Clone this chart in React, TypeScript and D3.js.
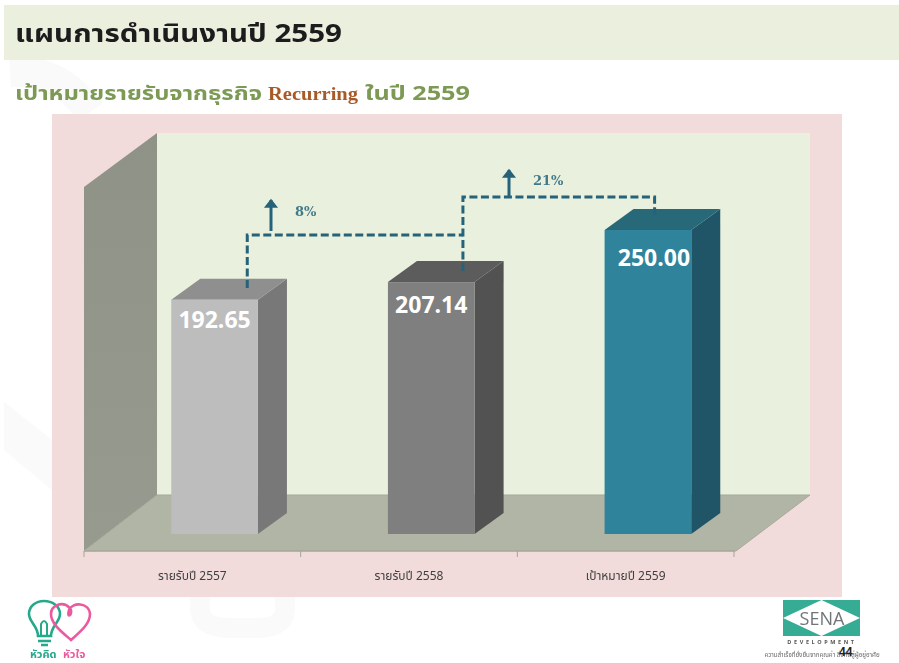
import React from "react";
import * as d3 from "d3";

const categories = ["รายรับปี 2557", "รายรับปี 2558", "เป้าหมายปี 2559"];
const revenue = [192.65, 207.14, 250.0];
const growthLabels = ["8%", "21%"];
const frontColors = ["#bdbdbd", "#7f7f7f", "#2f839b"];
const sideColors = ["#787878", "#525252", "#1f5566"];
const topColors = ["#8f8f8f", "#5c5c5c", "#276879"];

const width = 899;
const height = 663;

// 3D box depth
const dx = 29;
const dy = -21;
// back wall offset from the front axis
const wallDx = 73;
const wallDy = -56;

const axisY = 551;
const floorFront = 534;
const labelDy = [28, 31, 36];
const labelShift = [0, 0, 6];
const thai = "'Noto Sans Thai', Tahoma, 'DejaVu Sans', 'Noto Sans', sans-serif";
const arrowColor = "#26647a";

const App = () => {
  const band = d3.scaleBand<string>().domain(categories).range([84, 734]);
  const y = d3.scaleLinear().domain([0, 250]).range([floorFront, 230]);
  const barW = band.bandwidth() * 0.4;
  const barX = (c: string) => (band(c) as number) + barW + 0.6;
  const poly = (pts: [number, number][]) => d3.line()(pts) + "Z";

  const ticks = [...categories.map((c) => band(c) as number), 734];

  const [x0, x1, x2] = categories.map(barX);
  const link1 = d3.line()([
    [x0 + 76, 288],
    [x0 + 76, 235],
    [x1 + 75, 235],
  ]) as string;
  const link2 = d3.line()([
    [x1 + 75, 271],
    [x1 + 75, 197],
    [x2 + 50, 197],
    [x2 + 50, 218],
  ]) as string;

  const arrow = (ax: number, y0: number, y1: number) => (
    <g stroke={arrowColor} fill="none" strokeWidth={3}>
      <line x1={ax} x2={ax} y1={y0} y2={y1} />
      <path d={`M${ax - 5.5},${y1 + 7}L${ax},${y1}L${ax + 5.5},${y1 + 7}Z`} fill={arrowColor} strokeWidth={1.5} />
    </g>
  );

  return (
    <svg
      width={width}
      height={height}
      style={{ position: "absolute", left: 0, top: 0, background: "#fff" }}
    >
      <defs>
        <filter id="soft" x="-5%" y="-5%" width="110%" height="110%">
          <feGaussianBlur stdDeviation="0.45" />
        </filter>
        <filter id="softer" x="-5%" y="-5%" width="110%" height="110%">
          <feGaussianBlur stdDeviation="0.6" />
        </filter>
        <linearGradient id="wall" x1="0" x2="0" y1="0" y2="1">
          <stop offset="0" stopColor="#8f9287" />
          <stop offset="1" stopColor="#979a8e" />
        </linearGradient>
      </defs>

      {/* faint watermark behind the slide */}
      <path d="M4,402L52,440V490L4,450Z" fill="#fafafa" />
      <path d="M200,597V608Q200,628 230,628H258Q285,628 285,608V597" fill="none" stroke="#fafafa" strokeWidth={20} />
      <path d="M10,72Q60,68 90,112" fill="none" stroke="#fafafa" strokeWidth={30} />

      <rect x={4} y={5} width={895} height={55} fill="#ebf0de" />
      <g fontFamily={thai} fontWeight="bold" filter="url(#soft)">
        <text x={15} y={42} fontSize={25} fill="#1a1a1a" textLength={327} lengthAdjust="spacingAndGlyphs">
          แผนการดำเนินงานปี 2559
        </text>
        <text x={15} y={100} fontSize={20} fill="#7d9a55" textLength={247} lengthAdjust="spacingAndGlyphs">
          เป้าหมายรายรับจากธุรกิจ
        </text>
        <text x={268} y={100} fontSize={19} fill="#a85a28" fontFamily="'Liberation Serif', serif" textLength={90} lengthAdjust="spacingAndGlyphs">
          Recurring
        </text>
        <text x={365} y={100} fontSize={20} fill="#7d9a55" textLength={105} lengthAdjust="spacingAndGlyphs">
          ในปี 2559
        </text>
      </g>

      {/* chart area */}
      <rect x={52} y={114} width={790} height={483} fill="#f2dcdb" />
      <rect x={84 + wallDx} y={133} width={653} height={axisY + wallDy - 133} fill="#e9f0dd" />
      <path
        d={poly([
          [84, 187],
          [84 + wallDx, 133],
          [84 + wallDx, axisY + wallDy],
          [84, axisY],
        ])}
        fill="url(#wall)"
      />
      <path
        d={poly([
          [84, axisY],
          [84 + wallDx, axisY + wallDy],
          [810, axisY + wallDy],
          [736, axisY],
        ])}
        fill="#b1b5a6"
        stroke="#a6a99b"
        strokeWidth={1}
      />

      {/* axis */}
      <line x1={84} x2={735} y1={axisY} y2={axisY} stroke="#a3a49a" />
      {ticks.map((t) => (
        <line key={t} x1={t} x2={t} y1={axisY} y2={axisY + 6} stroke="#a3a49a" />
      ))}
      {categories.map((c) => (
        <text
          key={c}
          x={(band(c) as number) + band.bandwidth() / 2}
          y={580}
          textAnchor="middle"
          fontFamily={thai}
          fontSize={12}
          fill="#404040"
          filter="url(#soft)"
        >
          {c}
        </text>
      ))}

      {/* bars */}
      {categories.map((c, i) => {
        const bx = barX(c);
        const top = y(revenue[i]);
        return (
          <g key={c}>
            <path
              d={poly([
                [bx + barW, top],
                [bx + barW + dx, top + dy],
                [bx + barW + dx, floorFront + dy],
                [bx + barW, floorFront],
              ])}
              fill={sideColors[i]}
            />
            <path
              d={poly([
                [bx, top],
                [bx + dx, top + dy],
                [bx + barW + dx, top + dy],
                [bx + barW, top],
              ])}
              fill={topColors[i]}
            />
            <rect x={bx} y={top} width={barW} height={floorFront - top} fill={frontColors[i]} />
            <text
              x={bx + barW / 2 + labelShift[i]}
              y={top + labelDy[i]}
              textAnchor="middle"
              fontFamily="'Open Sans', sans-serif"
              fontWeight="bold"
              fontSize={23}
              fill="#fff"
            >
              {revenue[i].toFixed(2)}
            </text>
          </g>
        );
      })}

      {/* growth connectors */}
      <g fill="none" stroke={arrowColor} strokeWidth={3} strokeDasharray="8 3.5" filter="url(#soft)">
        <path d={link1} />
        <path d={link2} />
      </g>
      <g filter="url(#soft)">
        {arrow(271, 231, 200)}
        {arrow(509, 197, 170)}
        <text x={295} y={216} fontFamily="'DejaVu Serif', serif" fontSize={13} fontWeight="bold" fill={arrowColor} fillOpacity={0.85}>
          {growthLabels[0]}
        </text>
        <text x={533} y={185} fontFamily="'DejaVu Serif', serif" fontSize={13} fontWeight="bold" fill={arrowColor} fillOpacity={0.85}>
          {growthLabels[1]}
        </text>
      </g>

      {/* left logo */}
      <g fill="none" strokeWidth={2.6} filter="url(#soft)">
        <path
          d="M38,636C38,626 29,622 29,614C29,606 36,601 44,601C52,601 60,606 60,614C60,622 51,626 51,636Z"
          stroke="#25a88a"
        />
        <path d="M38,641H51M41,645H48" stroke="#25a88a" />
        <path d="M41,636L41,624Q44,618 47,624L47,636" stroke="#25a88a" strokeWidth={2} />
        <path
          d="M71,640C62,632 51,624 51,614C51,606 62,600 70,608C74,614 66,620 69,610C72,602 89,602 90,614C90,624 80,632 71,640Z"
          stroke="#ea5a9e"
        />
      </g>
      <text x={30} y={658} fontFamily={thai} fontWeight="bold" fontSize={11} fill="#25a88a" filter="url(#soft)">
        หัวคิด
      </text>
      <text x={63} y={658} fontFamily={thai} fontWeight="bold" fontSize={11} fill="#ea5a9e" filter="url(#soft)">
        หัวใจ
      </text>

      {/* right logo */}
      <g filter="url(#softer)">
        <rect x={783} y={600} width={77} height={36} fill="#35ac93" />
        <path d="M783,618L821.5,600L860,618L821.5,636Z" fill="#fff" />
        <text x={822} y={625} textAnchor="middle" fontFamily="'Open Sans', sans-serif" fontSize={18} fill="#6f7478">
          SENA
        </text>
        <text x={822} y={644} textAnchor="middle" fontFamily="'Open Sans', sans-serif" fontSize={5.5} fontWeight="bold" letterSpacing={2.6} fill="#555">
          DEVELOPMENT
        </text>
        <text x={822} y={657} textAnchor="middle" fontFamily={thai} fontSize={6.2} fill="#666">
          ความสำเร็จที่ยั่งยืนจากคุณค่า สิ่งที่ดีสู่ผู้อยู่อาศัย
        </text>
      </g>
      <text x={839} y={656} fontFamily="'Liberation Sans', sans-serif" fontWeight="bold" fontSize={12} fill="#222">
        44
      </text>
    </svg>
  );
};

export default App;
